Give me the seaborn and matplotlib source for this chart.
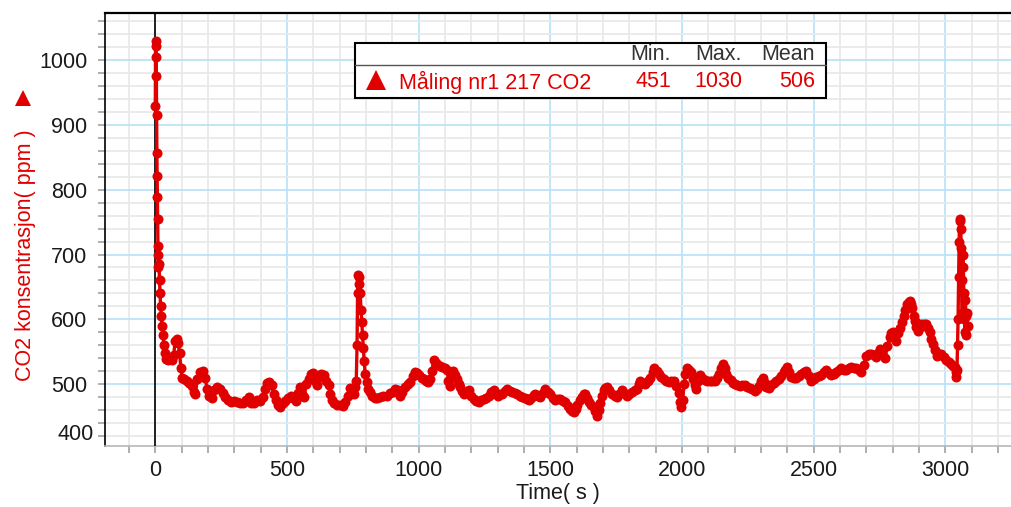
import numpy as np
import pandas as pd
import matplotlib
matplotlib.use("Agg")
import matplotlib.pyplot as plt
from matplotlib.lines import Line2D
from matplotlib.patches import Rectangle
from matplotlib.ticker import MultipleLocator
import seaborn as sns

# CO2 logger readings: time (s) and concentration (ppm)
time_s = [
    0, 1, 2, 3, 4, 5, 6, 7, 8, 9, 10, 11, 12, 14, 16, 18, 20, 23, 26, 29,
    33, 37, 41, 48, 56, 64, 70, 75, 81, 87, 92, 97, 102, 110, 119, 128, 138, 146, 152, 160,
    170, 180, 189, 197, 205, 214, 224, 234, 246, 256, 266, 276, 286, 298, 310, 322, 334, 345, 355, 365,
    375, 386, 398, 410, 418, 424, 432, 442, 450, 458, 466, 475, 484, 494, 504, 514, 524, 534, 543, 551,
    558, 565, 573, 583, 592, 600, 608, 614, 621, 630, 640, 650, 658, 665, 672, 680, 690, 700, 712, 722,
    730, 738, 746, 753, 758, 763, 766, 768, 770, 772, 775, 778, 781, 784, 787, 790, 793, 797, 802, 808,
    815, 824, 833, 842, 853, 866, 878, 891, 903, 912, 920, 929, 938, 948, 958, 967, 977, 986, 994, 1003,
    1012, 1020, 1028, 1035, 1042, 1050, 1057, 1064, 1072, 1080, 1090, 1100, 1108, 1113, 1118, 1124, 1131, 1138, 1146, 1152,
    1158, 1165, 1171, 1180, 1190, 1200, 1209, 1218, 1228, 1238, 1247, 1257, 1266, 1276, 1285, 1292, 1300, 1308, 1316, 1326,
    1335, 1345, 1354, 1364, 1373, 1383, 1392, 1402, 1411, 1420, 1428, 1436, 1443, 1452, 1462, 1472, 1481, 1490, 1500, 1510,
    1519, 1528, 1538, 1548, 1557, 1566, 1576, 1584, 1590, 1596, 1603, 1612, 1620, 1627, 1633, 1640, 1646, 1656, 1665, 1671,
    1677, 1684, 1690, 1697, 1703, 1709, 1715, 1724, 1734, 1744, 1753, 1762, 1772, 1781, 1791, 1800, 1810, 1820, 1829, 1836,
    1842, 1852, 1861, 1870, 1880, 1888, 1895, 1903, 1911, 1920, 1930, 1940, 1949, 1958, 1968, 1978, 1987, 1993, 1997, 2002,
    2008, 2013, 2020, 2027, 2034, 2042, 2048, 2054, 2060, 2067, 2076, 2086, 2095, 2105, 2114, 2124, 2132, 2139, 2148, 2156,
    2162, 2168, 2176, 2184, 2192, 2200, 2210, 2219, 2228, 2238, 2248, 2257, 2266, 2276, 2285, 2292, 2300, 2308, 2314, 2320,
    2330, 2339, 2348, 2358, 2368, 2377, 2386, 2392, 2399, 2407, 2415, 2424, 2434, 2444, 2453, 2462, 2472, 2482, 2491, 2500,
    2510, 2520, 2529, 2538, 2548, 2558, 2567, 2576, 2586, 2596, 2605, 2614, 2624, 2634, 2643, 2652, 2662, 2672, 2681, 2690,
    2700, 2710, 2719, 2728, 2738, 2745, 2751, 2760, 2770, 2780, 2789, 2795, 2801, 2808, 2814, 2820, 2827, 2835, 2842, 2848,
    2854, 2860, 2865, 2870, 2875, 2880, 2884, 2890, 2896, 2902, 2909, 2917, 2925, 2933, 2941, 2947, 2953, 2960, 2968, 2976,
    2985, 2994, 3004, 3013, 3023, 3030, 3035, 3039, 3042, 3044, 3046, 3048, 3050, 3052, 3054, 3056, 3058, 3060, 3062, 3064,
    3066, 3068, 3070, 3072, 3074, 3076, 3078, 3080, 3082, 3084,
]
co2_ppm = [
    930, 1030, 1022, 1005, 975, 915, 856, 821, 789, 755, 713, 700, 680, 686, 660, 640, 620, 605, 590, 575,
    560, 548, 538, 537, 538, 537, 545, 566, 570, 563, 548, 525, 510, 507, 505, 502, 497, 488, 485, 508,
    518, 520, 510, 492, 481, 478, 490, 496, 492, 486, 480, 475, 472, 474, 472, 470, 471, 476, 480, 470,
    471, 476, 474, 480, 492, 501, 503, 498, 484, 476, 468, 465, 470, 474, 478, 481, 478, 474, 486, 496,
    485, 480, 500, 508, 516, 517, 505, 498, 511, 515, 514, 505, 498, 485, 476, 470, 468, 467, 466, 472,
    482, 494, 490, 484, 496, 505, 560, 640, 668, 666, 655, 640, 615, 595, 575, 555, 535, 515, 503, 493,
    487, 481, 478, 478, 480, 481, 482, 486, 487, 492, 490, 482, 488, 495, 500, 503, 512, 518, 517, 514,
    510, 507, 505, 503, 508, 520, 537, 533, 530, 528, 527, 524, 522, 505, 497, 515, 520, 514, 508, 500,
    495, 489, 485, 488, 490, 482, 477, 474, 472, 475, 477, 479, 481, 487, 490, 484, 482, 484, 485, 489,
    492, 489, 487, 486, 485, 482, 480, 478, 477, 475, 478, 483, 485, 482, 480, 486, 492, 488, 485, 479,
    475, 477, 477, 474, 472, 466, 462, 458, 457, 462, 468, 475, 480, 484, 485, 478, 472, 468, 464, 458,
    451, 460, 470, 482, 490, 494, 495, 490, 485, 482, 480, 485, 490, 486, 482, 484, 487, 490, 492, 500,
    505, 502, 500, 505, 510, 518, 525, 520, 515, 511, 508, 505, 503, 504, 505, 497, 486, 472, 465, 475,
    500, 515, 525, 522, 518, 508, 498, 493, 505, 514, 510, 506, 504, 504, 505, 505, 510, 516, 525, 531,
    524, 516, 510, 506, 502, 500, 499, 497, 498, 499, 496, 494, 492, 489, 492, 497, 504, 510, 502, 495,
    494, 498, 501, 504, 508, 513, 518, 522, 526, 518, 511, 510, 510, 513, 516, 518, 520, 512, 504, 507,
    511, 512, 514, 518, 521, 517, 514, 516, 519, 522, 524, 522, 521, 524, 526, 525, 524, 521, 519, 530,
    544, 546, 547, 545, 542, 548, 554, 547, 540, 558, 572, 578, 580, 574, 567, 578, 587, 596, 605, 614,
    623, 627, 628, 624, 618, 605, 597, 588, 582, 588, 592, 593, 592, 586, 580, 570, 562, 552, 544, 546,
    547, 542, 537, 534, 531, 528, 526, 518, 511, 522, 560, 600, 665, 720, 755, 752, 740, 710, 660, 610,
    700, 680, 640, 600, 580, 630, 605, 575, 610, 590,
]

series_name = "Måling nr1 217 CO2"
stat_headers = ["Min.", "Max.", "Mean"]
stat_values = ["451", "1030", "506"]

x_major_ticks = [0, 500, 1000, 1500, 2000, 2500, 3000]
y_major_ticks = [500, 600, 700, 800, 900, 1000]

RED = "#e00000"
GRID_BLUE = "#b4e1f7"
GRID_GREY = "#e8e8e8"
TICK_GREY = "#9a9a9a"
TEXT_DARK = "#1a1a1a"

W, H = 1011, 507
sns.set_style("white")
plt.rcParams["font.family"] = ["Liberation Sans", "DejaVu Sans"]
FS = 15.5

fig = plt.figure(figsize=(W / 100, H / 100), dpi=100)


def fx(px):
    return px / W


def fy(py):
    return 1 - py / H


ax = fig.add_axes([fx(105), fy(445.5), 1 - fx(105), fy(13) - fy(445.5)])

df = pd.DataFrame({"time": time_s, "co2": co2_ppm})
sns.lineplot(data=df, x="time", y="co2", ax=ax, sort=False, estimator=None,
             color=RED, linewidth=2.4, marker="o", markersize=7.2,
             markeredgewidth=0, zorder=5, legend=False)

ax.set_xlim(-191, 3249)
ax.set_ylim(405, 1073)

ax.xaxis.set_major_locator(MultipleLocator(500))
ax.xaxis.set_minor_locator(MultipleLocator(100))
ax.yaxis.set_major_locator(MultipleLocator(100))
ax.yaxis.set_minor_locator(MultipleLocator(20))
ax.set_xticks(x_major_ticks)
ax.set_yticks(y_major_ticks)

ax.grid(which="minor", color=GRID_GREY, linewidth=1.2, zorder=0)
ax.grid(which="major", color=GRID_BLUE, linewidth=1.2, zorder=1)
ax.set_axisbelow(True)

ax.tick_params(which="both", direction="out", length=5.2, width=1.1,
               color=TICK_GREY, labelsize=FS, labelcolor=TEXT_DARK)
ax.tick_params(axis="x", which="both", pad=5, bottom=True)
ax.tick_params(axis="y", which="both", pad=7.5, left=True)

ax.spines["right"].set_visible(False)
ax.spines["top"].set_color("black")
ax.spines["top"].set_linewidth(1.6)
ax.spines["left"].set_color("black")
ax.spines["left"].set_linewidth(1.2)
ax.spines["bottom"].set_color("#b8b8b8")
ax.spines["bottom"].set_linewidth(1.2)

ax.axvline(0, color="black", linewidth=1.2, zorder=3)

ax.set_xlabel("")
ax.set_ylabel("")

# bottom value label sits at the lower edge of the axis
ax.text(-0.0125, 405, "400", transform=ax.get_yaxis_transform(),
        ha="right", va="bottom", fontsize=FS, color=TEXT_DARK)

# axis titles
fig.text(fx(558), fy(494), "Time( s )", ha="center", va="center",
         fontsize=FS, color=TEXT_DARK)
fig.text(fx(26), fy(255), "CO2 konsentrasjon( ppm )", rotation=90,
         ha="center", va="center", fontsize=FS, color=RED)
fig.add_artist(Line2D([fx(23)], [fy(98)], marker="^", markersize=12,
                      color=RED, markeredgewidth=0, transform=fig.transFigure))

# statistics box
box_l, box_r, box_t, box_b, box_mid = 355, 826, 43, 98, 65
fig.add_artist(Rectangle((fx(box_l), fy(box_b)), fx(box_r) - fx(box_l),
                         fy(box_t) - fy(box_b), transform=fig.transFigure,
                         facecolor="white", edgecolor="black", linewidth=1.5,
                         zorder=10))
fig.add_artist(Line2D([fx(box_l), fx(box_r)], [fy(box_mid), fy(box_mid)],
                      color="#555555", linewidth=1.0,
                      transform=fig.transFigure, zorder=11))
fig.add_artist(Line2D([fx(376)], [fy(80)], marker="^", markersize=15,
                      color=RED, markeredgewidth=0,
                      transform=fig.transFigure, zorder=11))
fig.text(fx(399), fy(82), series_name, ha="left", va="center",
         fontsize=FS, color=RED, zorder=12)
col_right = [671, 742, 815]
for xr, head, val in zip(col_right, stat_headers, stat_values):
    fig.text(fx(xr), fy(55), head, ha="right", va="center",
             fontsize=FS, color="#333333", zorder=12)
    fig.text(fx(xr), fy(82), val, ha="right", va="center",
             fontsize=FS, color=RED, zorder=12)

fig.savefig("out.png", dpi=100)
